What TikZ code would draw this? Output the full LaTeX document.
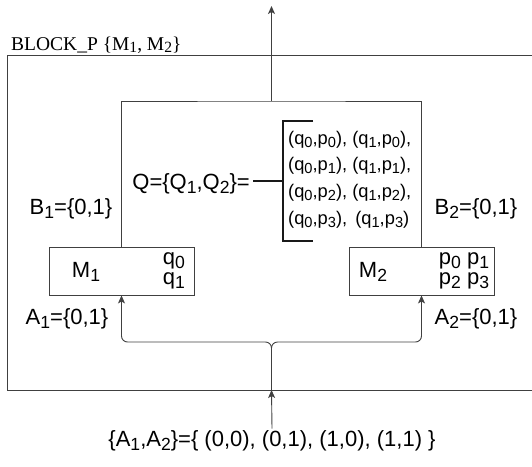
\documentclass[tikz,border=0pt]{standalone}
\usepackage{fontspec}
\usepackage{graphicx}
\setmainfont{Liberation Sans}
\newfontfamily\serifF{Liberation Serif}
\usetikzlibrary{arrows.meta}
\newcommand\lo[1]{\raisebox{-0.3ex}{\scalebox{0.8}{#1}}}
\tikzset{
  ln/.style={draw=black!75, line width=0.9pt},
  brk/.style={draw=black!90, line width=1.6pt},
  conn/.style={ln, -{Stealth[length=8pt,width=7pt,inset=2pt]}},
  mbox/.style={ln, fill=white, minimum width=145pt, minimum height=48pt, inner sep=0pt},
  lbl/.style={font=\fontsize{22}{20}\selectfont, inner sep=0pt},
  pr/.style={font=\fontsize{18.3}{20}\selectfont, inner sep=0pt, anchor=west},
}
\begin{document}
\begin{tikzpicture}[x=1pt,y=-1pt]
\useasboundingbox (0,0) rectangle (532,466);
% outer block
\coordinate (otr) at (532,55);
\coordinate (otl) at (7,55);
\coordinate (obl) at (7,390);
\coordinate (obr) at (532,390);
\draw[ln] (otr) -- (otl) -- (obl) -- (obr);
\node[anchor=base west, inner sep=0pt, font=\serifF\fontsize{19.5}{20}\selectfont] (blk) at (11,50) {BLOCK\_P \{M\lo{1}, M\lo{2}\}};
% boxes
\node[mbox] (m1) at (121.5,271) {};
\node[mbox] (m2) at (421.5,271) {};
\node[lbl] (m1t) at (86,272) {M\lo{1}};
\node[lbl, align=left] (m1q) at (174,271) {q\lo{0}\\q\lo{1}};
\node[lbl] (m2t) at (373,272) {M\lo{2}};
\node[lbl, align=left] (m2p) at (464,271) {p\lo{0} p\lo{1}\\p\lo{2} p\lo{3}};
% inner rect
\coordinate (qt) at (271.5,101);
\coordinate (topend) at (271.5,6);
\draw[ln] (m1.north) |- (qt) -| (m2.north);
\draw[conn] (qt) -- (topend);
% labels
\node[lbl] (b1) at (71,209) {B\lo{1}=\{0,1\}};
\node[lbl] (b2) at (476,209) {B\lo{2}=\{0,1\}};
\node[lbl] (a1) at (67,319) {A\lo{1}=\{0,1\}};
\node[lbl] (a2) at (476,319) {A\lo{2}=\{0,1\}};
% Q
\node[lbl, anchor=east] (ql) at (250,184) {Q=\{Q\lo{1},Q\lo{2}\}=};
\coordinate (bt) at (283,121);
\coordinate (bb) at (283,241);
\coordinate (bm) at (283,181);
\coordinate (qe) at (253,181);
\draw[brk] (qe) -- (bm);
\draw[brk] ([xshift=30pt]bt) -- (bt) -- (bb) -- ([xshift=30pt]bb);
\node[pr] (r1) at (288,140) {(q\lo{0},p\lo{0}), (q\lo{1},p\lo{0}),};
\node[pr] (r2) at (288,166) {(q\lo{0},p\lo{1}), (q\lo{1},p\lo{1}),};
\node[pr] (r3) at (288,193) {(q\lo{0},p\lo{2}), (q\lo{1},p\lo{2}),};
\node[pr] (r4) at (288,220) {(q\lo{0},p\lo{3}), \,(q\lo{1},p\lo{3})};
% bottom input
\node[lbl] (inp) at (272,441) {\{A\lo{1},A\lo{2}\}=\{ (0,0), (0,1), (1,0), (1,1) \}};
\coordinate (port) at (271.5,390);
\coordinate (split) at (271.5,342);
\draw[conn] (inp.north) ++(0,-2) -- (port);
\draw[conn, rounded corners=6pt] (port) -- (split) -| (m1.south);
\draw[conn, rounded corners=6pt] (port) -- (split) -| (m2.south);
\end{tikzpicture}
\end{document}
